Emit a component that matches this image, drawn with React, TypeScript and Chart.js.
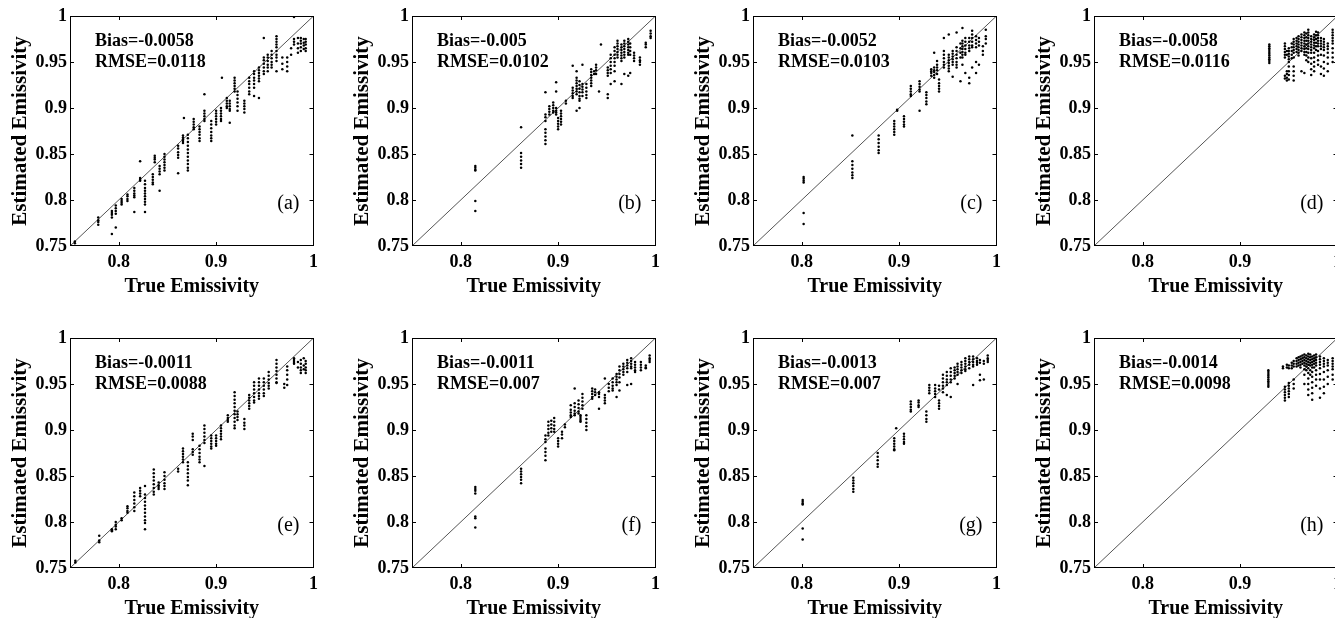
import React, { useEffect, useRef } from 'react';
import { Chart, registerables } from 'chart.js';

Chart.register(...registerables);

// ---------- data ----------
const xTickValues = [0.8, 0.9, 1];
const yTickValues = [0.75, 0.8, 0.85, 0.9, 0.95, 1];
const axisMin = 0.75;
const axisMax = 1;
const xTitle = 'True Emissivity';
const yTitle = 'Estimated Emissivity';
const panelLetters = ['(a)', '(b)', '(c)', '(d)', '(e)', '(f)', '(g)', '(h)'];
const biasLabels = ['Bias=-0.0058', 'Bias=-0.005', 'Bias=-0.0052', 'Bias=-0.0058', 'Bias=-0.0011', 'Bias=-0.0011', 'Bias=-0.0013', 'Bias=-0.0014'];
const rmseLabels = ['RMSE=0.0118', 'RMSE=0.0102', 'RMSE=0.0103', 'RMSE=0.0116', 'RMSE=0.0088', 'RMSE=0.007', 'RMSE=0.007', 'RMSE=0.0098'];

// each column: [trueValue, estimated1, estimated2, ...]
const panelA = [
  [0.755, 0.753, 0.755],
  [0.779, 0.781, 0.778, 0.776, 0.773],
  [0.793, 0.788, 0.786, 0.784, 0.781, 0.763],
  [0.797, 0.794, 0.791, 0.788, 0.785, 0.770],
  [0.803, 0.801, 0.799, 0.797, 0.795],
  [0.809, 0.806, 0.804, 0.801, 0.799],
  [0.816, 0.813, 0.810, 0.807, 0.805, 0.803, 0.787],
  [0.822, 0.842, 0.824, 0.822, 0.821],
  [0.827, 0.821, 0.817, 0.813, 0.810, 0.807, 0.804, 0.801, 0.798, 0.795, 0.787],
  [0.835, 0.828, 0.825, 0.822, 0.819, 0.817],
  [0.837, 0.848, 0.846, 0.844, 0.841],
  [0.842, 0.837, 0.834, 0.831, 0.828, 0.810],
  [0.847, 0.850, 0.847, 0.844, 0.841, 0.838, 0.835, 0.832],
  [0.861, 0.859, 0.856, 0.852, 0.849, 0.846, 0.829],
  [0.866, 0.870, 0.868, 0.866, 0.864, 0.862],
  [0.867, 0.889],
  [0.871, 0.871, 0.867, 0.863, 0.859, 0.855, 0.851, 0.847, 0.843, 0.839, 0.835, 0.832],
  [0.877, 0.888, 0.885, 0.882, 0.879, 0.877],
  [0.883, 0.880, 0.877, 0.874, 0.871, 0.867, 0.864],
  [0.888, 0.915, 0.897, 0.894, 0.891, 0.888, 0.886],
  [0.895, 0.886, 0.882, 0.878, 0.874, 0.870, 0.867, 0.864],
  [0.900, 0.897, 0.894, 0.891, 0.888, 0.885, 0.882],
  [0.905, 0.900, 0.897, 0.894, 0.891, 0.888, 0.886],
  [0.906, 0.933],
  [0.911, 0.911, 0.908, 0.905, 0.902, 0.900],
  [0.914, 0.908, 0.905, 0.902, 0.899, 0.897, 0.884],
  [0.919, 0.933, 0.930, 0.927, 0.924, 0.921, 0.918],
  [0.922, 0.918, 0.914, 0.910, 0.906, 0.902, 0.897],
  [0.929, 0.908, 0.905, 0.902, 0.899, 0.895],
  [0.934, 0.933, 0.929, 0.926, 0.922, 0.918, 0.915],
  [0.939, 0.940, 0.937, 0.933, 0.930, 0.926, 0.922, 0.913],
  [0.944, 0.944, 0.941, 0.938, 0.935, 0.932, 0.929, 0.911],
  [0.949, 0.976, 0.955, 0.952, 0.948, 0.944, 0.940, 0.937],
  [0.953, 0.958, 0.955, 0.951, 0.947, 0.944, 0.940],
  [0.957, 0.962, 0.958, 0.954, 0.950, 0.947, 0.944],
  [0.962, 0.978, 0.975, 0.972, 0.969, 0.966, 0.962, 0.958, 0.955, 0.951, 0.940],
  [0.968, 0.955, 0.948, 0.942],
  [0.973, 0.955, 0.950, 0.945, 0.940],
  [0.977, 0.965, 0.958],
  [0.980, 0.975, 0.972, 0.969, 0.999],
  [0.984, 0.976, 0.970, 0.965, 0.960],
  [0.987, 0.976, 0.973, 0.970, 0.966, 0.962],
  [0.990, 0.975, 0.971, 0.968, 0.964],
  [0.992, 0.975, 0.972, 0.969, 0.965, 0.962],
];

const panelB = [
  [0.815, 0.837, 0.835, 0.833, 0.832, 0.799, 0.788],
  [0.862, 0.879, 0.851, 0.847, 0.843, 0.839, 0.835],
  [0.887, 0.917, 0.893, 0.890, 0.886, 0.877, 0.873, 0.869, 0.865, 0.861],
  [0.891, 0.902, 0.899, 0.896, 0.893],
  [0.895, 0.906, 0.903, 0.900, 0.897, 0.895],
  [0.898, 0.928, 0.918, 0.900, 0.897, 0.895, 0.893],
  [0.900, 0.889, 0.886, 0.883, 0.880, 0.877],
  [0.903, 0.897, 0.894, 0.891, 0.888, 0.885, 0.882],
  [0.908, 0.908, 0.905],
  [0.915, 0.946, 0.922, 0.919, 0.916, 0.913, 0.911],
  [0.919, 0.940, 0.933, 0.930, 0.927, 0.924, 0.921, 0.918, 0.915, 0.897],
  [0.922, 0.929, 0.925, 0.921, 0.917, 0.913, 0.910, 0.908, 0.900],
  [0.925, 0.947, 0.926, 0.923, 0.920, 0.917, 0.913],
  [0.929, 0.926, 0.922, 0.918, 0.914, 0.911],
  [0.934, 0.942, 0.939, 0.936, 0.933, 0.930, 0.927, 0.924],
  [0.937, 0.940, 0.937],
  [0.939, 0.947, 0.944, 0.941, 0.937],
  [0.942, 0.918],
  [0.944, 0.969],
  [0.951, 0.944, 0.941, 0.938, 0.935, 0.915, 0.911],
  [0.954, 0.958, 0.954, 0.950, 0.946, 0.942, 0.938, 0.926],
  [0.958, 0.966, 0.962, 0.958, 0.954, 0.950, 0.946, 0.940, 0.929],
  [0.961, 0.973, 0.970, 0.967, 0.964, 0.961, 0.958, 0.955],
  [0.965, 0.969, 0.966, 0.963, 0.960, 0.957, 0.954, 0.951, 0.926],
  [0.968, 0.973, 0.970, 0.967, 0.964, 0.961, 0.958, 0.955, 0.937],
  [0.972, 0.975, 0.972, 0.969, 0.966, 0.963, 0.960, 0.958, 0.935],
  [0.974, 0.970, 0.966, 0.962, 0.958, 0.938],
  [0.978, 0.960, 0.957, 0.954, 0.951],
  [0.984, 0.955, 0.952, 0.950, 0.947],
  [0.990, 0.971, 0.969, 0.966],
  [0.995, 0.984, 0.981, 0.978, 0.976],
];

const panelC = [
  [0.802, 0.825, 0.823, 0.821, 0.819, 0.786, 0.774],
  [0.852, 0.870, 0.842, 0.838, 0.834, 0.830, 0.827, 0.824],
  [0.879, 0.870, 0.866, 0.862, 0.858, 0.854, 0.851],
  [0.895, 0.886, 0.883, 0.880, 0.877, 0.874, 0.871],
  [0.898, 0.898, 0.897],
  [0.905, 0.891, 0.888, 0.885, 0.882, 0.880],
  [0.912, 0.924, 0.921, 0.918, 0.915, 0.913],
  [0.921, 0.929, 0.926, 0.923, 0.920, 0.918, 0.897],
  [0.928, 0.917, 0.914, 0.911, 0.907, 0.904],
  [0.933, 0.942, 0.940, 0.938, 0.935],
  [0.936, 0.944, 0.941, 0.939, 0.936, 0.933, 0.960],
  [0.939, 0.951, 0.947, 0.944, 0.941, 0.937],
  [0.941, 0.931, 0.927, 0.924, 0.921, 0.918],
  [0.946, 0.962, 0.958, 0.954, 0.950, 0.947, 0.944, 0.976],
  [0.951, 0.958, 0.955, 0.952, 0.949, 0.946, 0.943, 0.940, 0.980],
  [0.955, 0.962, 0.959, 0.956, 0.953, 0.950, 0.947, 0.934],
  [0.959, 0.966, 0.962, 0.958, 0.954, 0.950, 0.947, 0.944, 0.982],
  [0.963, 0.970, 0.965, 0.960, 0.955, 0.929],
  [0.965, 0.973, 0.970, 0.967, 0.964, 0.961, 0.958, 0.955, 0.987, 0.947],
  [0.968, 0.976, 0.972, 0.968, 0.964, 0.960, 0.958, 0.938],
  [0.972, 0.976, 0.972, 0.968, 0.965, 0.962, 0.933, 0.927],
  [0.975, 0.984, 0.980, 0.976, 0.972, 0.968, 0.966, 0.944],
  [0.979, 0.978, 0.974, 0.970, 0.966, 0.938, 0.950],
  [0.982, 0.976, 0.972, 0.968, 0.947],
  [0.986, 0.967, 0.962, 0.958],
  [0.989, 0.985, 0.978, 0.975, 0.970],
];

const panelD = [
  [0.930, 0.969, 0.967, 0.965, 0.963, 0.961, 0.959, 0.957, 0.955, 0.953, 0.951, 0.949],
  [0.946, 0.970, 0.967, 0.964, 0.961, 0.958, 0.955, 0.935, 0.932],
  [0.948, 0.962, 0.958, 0.940, 0.937, 0.933, 0.930],
  [0.950, 0.965, 0.962, 0.959, 0.956, 0.953, 0.950, 0.945, 0.940, 0.936, 0.931],
  [0.953, 0.970, 0.966, 0.962, 0.958, 0.954],
  [0.955, 0.975, 0.972, 0.969, 0.966, 0.963, 0.960, 0.955, 0.945, 0.940, 0.935, 0.930],
  [0.958, 0.976, 0.973, 0.970, 0.967, 0.964, 0.961],
  [0.960, 0.978, 0.975, 0.972, 0.969, 0.966, 0.963, 0.960, 0.957],
  [0.963, 0.980, 0.977, 0.974, 0.971, 0.968, 0.965, 0.962, 0.940],
  [0.966, 0.982, 0.979, 0.976, 0.973, 0.970, 0.967, 0.964, 0.961, 0.958, 0.938],
  [0.968, 0.981, 0.977, 0.973, 0.969, 0.965, 0.961, 0.957, 0.952],
  [0.970, 0.985, 0.982, 0.979, 0.976, 0.973, 0.970, 0.967, 0.964, 0.960, 0.955, 0.950],
  [0.973, 0.978, 0.975, 0.972, 0.969, 0.966, 0.963, 0.960, 0.954, 0.948, 0.942, 0.936],
  [0.976, 0.980, 0.977, 0.974, 0.971, 0.968, 0.965, 0.960, 0.955, 0.950, 0.945, 0.940],
  [0.978, 0.983, 0.979, 0.975, 0.971, 0.967, 0.963],
  [0.980, 0.982, 0.979, 0.976, 0.973, 0.970, 0.967, 0.962, 0.957, 0.952, 0.947],
  [0.983, 0.976, 0.973, 0.970, 0.967, 0.964, 0.958, 0.945, 0.937],
  [0.986, 0.975, 0.972, 0.969, 0.966, 0.963, 0.957, 0.950, 0.943, 0.935],
  [0.990, 0.970, 0.967, 0.964, 0.960, 0.955, 0.948, 0.940],
  [0.995, 0.985, 0.982, 0.979, 0.976, 0.973, 0.970, 0.965, 0.960, 0.955, 0.950],
];

const panelE = [
  [0.7555, 0.756, 0.758],
  [0.780, 0.785, 0.780, 0.778],
  [0.793, 0.792, 0.791, 0.790],
  [0.797, 0.800, 0.797, 0.795, 0.792],
  [0.803, 0.804, 0.802],
  [0.809, 0.817, 0.815, 0.812, 0.810],
  [0.816, 0.832, 0.828, 0.824, 0.820, 0.816, 0.812],
  [0.822, 0.837, 0.834, 0.831, 0.828],
  [0.827, 0.839, 0.830, 0.826, 0.822, 0.818, 0.814, 0.810, 0.806, 0.802, 0.799, 0.792],
  [0.836, 0.857, 0.853, 0.849, 0.845, 0.841, 0.837, 0.833, 0.830],
  [0.841, 0.843, 0.840, 0.838, 0.836],
  [0.847, 0.854, 0.850, 0.846, 0.842, 0.839, 0.836],
  [0.861, 0.858, 0.855],
  [0.866, 0.880, 0.877, 0.874, 0.871, 0.868, 0.865],
  [0.871, 0.865, 0.861, 0.857, 0.853, 0.849, 0.845, 0.840],
  [0.876, 0.896, 0.893, 0.889, 0.879, 0.876, 0.873],
  [0.883, 0.883, 0.879, 0.875, 0.871, 0.868, 0.865],
  [0.888, 0.905, 0.901, 0.897, 0.893, 0.889, 0.886, 0.861],
  [0.895, 0.894, 0.891, 0.888, 0.885, 0.882, 0.880],
  [0.900, 0.894, 0.891, 0.888, 0.885, 0.883],
  [0.905, 0.905, 0.902, 0.899, 0.896, 0.893, 0.890],
  [0.912, 0.916, 0.913, 0.911, 0.909],
  [0.919, 0.941, 0.937, 0.933, 0.929, 0.925, 0.921, 0.917, 0.913, 0.909, 0.905, 0.902],
  [0.922, 0.920, 0.917, 0.914, 0.911],
  [0.929, 0.912, 0.908, 0.905, 0.901],
  [0.934, 0.938, 0.935, 0.932, 0.929, 0.926, 0.923],
  [0.939, 0.952, 0.948, 0.944, 0.940, 0.936, 0.932, 0.930],
  [0.944, 0.956, 0.952, 0.948, 0.944, 0.940, 0.937, 0.934],
  [0.949, 0.956, 0.952, 0.948, 0.944, 0.940, 0.937],
  [0.954, 0.963, 0.959, 0.955, 0.951, 0.948, 0.945],
  [0.962, 0.976, 0.972, 0.968, 0.964, 0.960, 0.956, 0.952, 0.951],
  [0.970, 0.950, 0.946],
  [0.973, 0.969, 0.965, 0.960, 0.955, 0.949],
  [0.980, 0.978, 0.976, 0.974, 0.972],
  [0.984, 0.974, 0.968],
  [0.987, 0.976, 0.972, 0.968, 0.965, 0.962],
  [0.990, 0.978, 0.970, 0.966],
  [0.992, 0.975, 0.972, 0.968, 0.965, 0.962],
];

const panelF = [
  [0.815, 0.838, 0.836, 0.834, 0.831, 0.806, 0.804, 0.794],
  [0.862, 0.858, 0.855, 0.852, 0.849, 0.846, 0.842],
  [0.887, 0.894, 0.890, 0.887, 0.880, 0.876, 0.872, 0.867],
  [0.890, 0.909, 0.905, 0.901, 0.897, 0.894],
  [0.893, 0.910, 0.906, 0.902, 0.898],
  [0.896, 0.913, 0.909, 0.905, 0.901, 0.898],
  [0.900, 0.891, 0.888, 0.885, 0.882],
  [0.904, 0.898, 0.895, 0.891],
  [0.907, 0.906, 0.903],
  [0.913, 0.922, 0.919, 0.916, 0.914, 0.927],
  [0.917, 0.929, 0.925, 0.921, 0.918, 0.916, 0.945],
  [0.921, 0.932, 0.928, 0.924, 0.920, 0.918],
  [0.923, 0.916, 0.914, 0.912, 0.910, 0.909],
  [0.925, 0.939, 0.935, 0.931, 0.927, 0.923],
  [0.929, 0.916, 0.912, 0.908, 0.904, 0.900],
  [0.935, 0.945, 0.942, 0.939, 0.936, 0.934],
  [0.938, 0.944, 0.941, 0.938],
  [0.942, 0.941, 0.939, 0.936, 0.923],
  [0.948, 0.938, 0.935, 0.932, 0.929, 0.956],
  [0.952, 0.950, 0.946, 0.942],
  [0.956, 0.956, 0.952, 0.948, 0.945, 0.943],
  [0.960, 0.961, 0.958, 0.955, 0.952, 0.949, 0.936],
  [0.963, 0.969, 0.965, 0.961, 0.957, 0.952, 0.943],
  [0.967, 0.972, 0.969, 0.966, 0.963, 0.960],
  [0.971, 0.976, 0.973, 0.970, 0.967, 0.963, 0.949],
  [0.975, 0.978, 0.975, 0.972, 0.969, 0.967, 0.950],
  [0.979, 0.974, 0.971, 0.968, 0.965, 0.963],
  [0.985, 0.974, 0.971, 0.968, 0.965],
  [0.990, 0.970, 0.968, 0.967],
  [0.994, 0.981, 0.978, 0.976, 0.974],
];

const panelG = [
  [0.801, 0.824, 0.822, 0.820, 0.819, 0.793, 0.781],
  [0.853, 0.848, 0.845, 0.842, 0.839, 0.836, 0.833],
  [0.878, 0.875, 0.871, 0.867, 0.863, 0.860],
  [0.895, 0.891, 0.888, 0.885, 0.882, 0.879, 0.878],
  [0.897, 0.902],
  [0.905, 0.896, 0.893, 0.890, 0.887, 0.885],
  [0.912, 0.931, 0.928, 0.925, 0.922, 0.920],
  [0.920, 0.932, 0.930, 0.927, 0.925],
  [0.928, 0.920, 0.916, 0.912, 0.909],
  [0.931, 0.949, 0.946, 0.943, 0.940],
  [0.937, 0.949, 0.945, 0.942, 0.939, 0.936],
  [0.941, 0.932, 0.929, 0.926, 0.923, 0.948, 0.944],
  [0.945, 0.960, 0.956, 0.952, 0.948, 0.945, 0.941],
  [0.949, 0.963, 0.959, 0.955, 0.952, 0.949, 0.938],
  [0.953, 0.967, 0.963, 0.959, 0.955, 0.952, 0.936],
  [0.957, 0.968, 0.965, 0.962, 0.959, 0.956],
  [0.960, 0.972, 0.969, 0.966, 0.963, 0.960, 0.950],
  [0.964, 0.974, 0.971, 0.968, 0.965, 0.962],
  [0.968, 0.978, 0.975, 0.972, 0.969, 0.966, 0.964],
  [0.972, 0.980, 0.977, 0.974, 0.971, 0.967],
  [0.976, 0.980, 0.977, 0.974, 0.971, 0.969, 0.949],
  [0.980, 0.978, 0.975, 0.973, 0.971],
  [0.983, 0.976, 0.973, 0.960, 0.954],
  [0.987, 0.975, 0.972, 0.955],
  [0.991, 0.981, 0.978, 0.976, 0.974],
];

const panelH = [
  [0.929, 0.965, 0.963, 0.961, 0.959, 0.957, 0.955, 0.953, 0.951, 0.949, 0.947],
  [0.944, 0.967, 0.969],
  [0.946, 0.947, 0.944, 0.941, 0.938, 0.935, 0.932],
  [0.948, 0.971, 0.968],
  [0.950, 0.970, 0.967, 0.951, 0.948, 0.945, 0.942, 0.939, 0.936],
  [0.953, 0.973, 0.970, 0.967],
  [0.955, 0.975, 0.972, 0.969, 0.955, 0.950, 0.945],
  [0.958, 0.978, 0.975, 0.972, 0.969],
  [0.960, 0.979, 0.976, 0.973, 0.970],
  [0.962, 0.980, 0.977, 0.974, 0.971, 0.968],
  [0.964, 0.981, 0.978, 0.975, 0.972],
  [0.966, 0.982, 0.979, 0.976, 0.973, 0.970, 0.966, 0.960, 0.950],
  [0.968, 0.981, 0.978, 0.975, 0.972, 0.969, 0.965],
  [0.970, 0.983, 0.980, 0.977, 0.974, 0.971, 0.967, 0.962, 0.956, 0.950, 0.944, 0.938],
  [0.972, 0.982, 0.979, 0.976, 0.973, 0.970, 0.965, 0.960],
  [0.974, 0.980, 0.977, 0.974, 0.971, 0.968, 0.963, 0.958, 0.952, 0.946, 0.940, 0.933],
  [0.976, 0.981, 0.978, 0.975, 0.972, 0.968],
  [0.978, 0.982, 0.979, 0.976, 0.973, 0.970, 0.965, 0.960, 0.955, 0.948],
  [0.982, 0.980, 0.977, 0.974, 0.971, 0.967, 0.961, 0.955, 0.945, 0.935],
  [0.986, 0.978, 0.975, 0.972, 0.969, 0.963, 0.955, 0.947, 0.940],
  [0.990, 0.976, 0.973, 0.970, 0.965, 0.958, 0.950],
  [0.995, 0.978, 0.975, 0.972, 0.969, 0.966, 0.960, 0.955],
];

const panelColumns = [panelA, panelB, panelC, panelD, panelE, panelF, panelG, panelH];

// ---------- layout / style ----------
const plotLefts = [70, 412, 753, 1094];
const plotTops = [16, 338];
const plotW = 244;
const plotH = 230;
const yAxisW = 70;
const xAxisH = 60;
const padRight = 10;
const serif = "'Liberation Serif', 'Times New Roman', serif";

const framePlugin = {
  id: 'frame',
  afterDraw(chart: any, _args: any, opts: any) {
    const { ctx, chartArea, scales } = chart;
    const { left, right, top, bottom } = chartArea;
    ctx.save();
    ctx.strokeStyle = '#000';
    ctx.lineWidth = 1;
    ctx.strokeRect(Math.round(left) + 0.5, Math.round(top) + 0.5, Math.round(right - left) - 1, Math.round(bottom - top) - 1);
    const tl = 4;
    ctx.beginPath();
    for (const v of xTickValues) {
      const px = Math.round(scales.x.getPixelForValue(v)) + 0.5;
      if (px > right - 2) continue;
      ctx.moveTo(px, bottom);
      ctx.lineTo(px, bottom - tl);
      ctx.moveTo(px, top);
      ctx.lineTo(px, top + tl);
    }
    for (const v of yTickValues) {
      const py = Math.round(scales.y.getPixelForValue(v)) + 0.5;
      if (py < top + 2 || py > bottom - 2) continue;
      ctx.moveTo(left, py);
      ctx.lineTo(left + tl, py);
      ctx.moveTo(right, py);
      ctx.lineTo(right - tl, py);
    }
    ctx.stroke();
    ctx.fillStyle = '#000';
    ctx.textBaseline = 'alphabetic';
    ctx.textAlign = 'left';
    ctx.font = `bold 18px ${serif}`;
    ctx.fillText(opts.bias, left + 25, top + 30);
    ctx.fillText(opts.rmse, left + 25, top + 51);
    ctx.textAlign = 'right';
    ctx.font = `20px ${serif}`;
    ctx.fillText(opts.letter, right - 14, bottom - 37);
    ctx.restore();
  },
};

function Panel({ index }: { index: number }) {
  const ref = useRef<HTMLCanvasElement | null>(null);
  const col = index % 4;
  const row = Math.floor(index / 4);
  const canvasLeft = plotLefts[col] - yAxisW;
  const canvasTop = plotTops[row] - 16;
  const width = yAxisW + plotW + padRight;
  const height = 16 + plotH + xAxisH;

  useEffect(() => {
    if (!ref.current) return;
    const points: { x: number; y: number }[] = [];
    for (const c of panelColumns[index]) {
      for (let k = 1; k < c.length; k++) points.push({ x: c[0], y: c[k] });
    }
    const tickFont = { family: serif, size: 18, weight: 'bold' as const };
    const titleFont = { family: serif, size: 20, weight: 'bold' as const };
    const chart = new Chart(ref.current, {
      type: 'scatter',
      data: {
        datasets: [
          {
            data: points,
            pointRadius: 1.25,
            pointBorderWidth: 0,
            pointBackgroundColor: '#000',
            borderColor: '#000',
            backgroundColor: '#000',
            order: 1,
          },
          {
            data: [
              { x: axisMin, y: axisMin },
              { x: axisMax, y: axisMax },
            ],
            showLine: true,
            pointRadius: 0,
            borderColor: '#555',
            borderWidth: 1,
            order: 2,
          },
        ],
      },
      options: {
        responsive: false,
        animation: false,
        devicePixelRatio: 1,
        layout: { padding: { top: 16, right: padRight, left: 0, bottom: 0 } },
        plugins: {
          legend: { display: false },
          tooltip: { enabled: false },
          frame: { bias: biasLabels[index], rmse: rmseLabels[index], letter: panelLetters[index] },
        } as any,
        scales: {
          x: {
            type: 'linear',
            min: axisMin,
            max: axisMax,
            afterBuildTicks: (s: any) => {
              s.ticks = xTickValues.map((v) => ({ value: v }));
            },
            afterFit: (s: any) => {
              s.height = xAxisH;
            },
            grid: { display: false, drawTicks: false },
            border: { display: false },
            ticks: {
              padding: 6,
              color: '#000',
              font: tickFont,
              maxRotation: 0,
              autoSkip: false,
              callback: (v: any) => String(v),
            },
            title: { display: true, text: xTitle, color: '#000', font: titleFont, padding: { top: 0, bottom: 7 } },
          },
          y: {
            type: 'linear',
            min: axisMin,
            max: axisMax,
            afterBuildTicks: (s: any) => {
              s.ticks = yTickValues.map((v) => ({ value: v }));
            },
            afterFit: (s: any) => {
              s.width = yAxisW;
            },
            grid: { display: false, drawTicks: false },
            border: { display: false },
            ticks: {
              padding: 3,
              color: '#000',
              font: tickFont,
              autoSkip: false,
              callback: (v: any) => String(v),
            },
            title: {
              display: true,
              text: yTitle,
              color: '#000',
              font: { family: serif, size: 21, weight: 'bold' as const },
              padding: { top: 8, bottom: 0 },
            },
          },
        },
      },
      plugins: [framePlugin as any],
    });
    return () => chart.destroy();
  }, [index]);

  return (
    <canvas
      ref={ref}
      width={width}
      height={height}
      style={{ position: 'absolute', left: canvasLeft, top: canvasTop, width, height }}
    />
  );
}

export default function App() {
  return (
    <div
      style={{
        position: 'fixed',
        left: 0,
        top: 0,
        width: 1335,
        height: 618,
        overflow: 'hidden',
        background: '#fff',
      }}
    >
      {panelColumns.map((_, i) => (
        <Panel key={i} index={i} />
      ))}
    </div>
  );
}
